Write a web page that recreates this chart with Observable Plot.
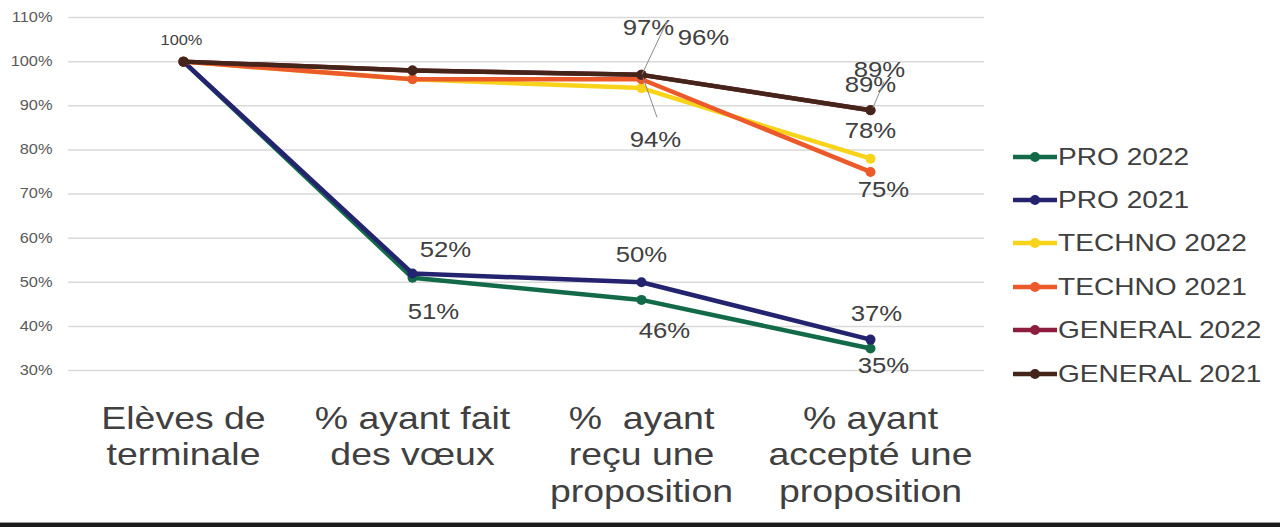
<!DOCTYPE html>
<html>
<head>
<meta charset="utf-8">
<script src="https://cdn.jsdelivr.net/npm/d3@7"></script>
<script src="https://cdn.jsdelivr.net/npm/@observablehq/plot@0.6"></script>
<style>
  html, body { margin: 0; padding: 0; background: #fff; }
  #wrap { position: relative; width: 1280px; height: 527px; overflow: hidden; font-family: "Liberation Sans", Arial, sans-serif; }
  #legend { position: absolute; left: 1013px; top: 135px; }
  .row { position: relative; height: 43.4px; display: flex; align-items: center; }
  .row svg { flex: none; }
  .row span { display: inline-block; font-size: 24px; color: #404040; transform: scaleX(1.17); transform-origin: left center; white-space: nowrap; margin-left: 1px; }
  #baseline { position: absolute; left: 0; top: 522px; width: 1280px; height: 4px; background: #1a1a1a; border-top: 1px solid #9a9a9a; }
</style>
</head>
<body>
<div id="wrap"></div>
<script>
// ---- data ----
const categories = ["Elèves de\nterminale", "% ayant fait\ndes vœux", "%  ayant\nreçu une\nproposition", "% ayant\naccepté une\nproposition"];
const seriesNames = ["PRO 2022", "PRO 2021", "TECHNO 2022", "TECHNO 2021", "GENERAL 2022", "GENERAL 2021"];
const pro2022 = [100, 51, 46, 35];
const pro2021 = [100, 52, 50, 37];
const techno2022 = [100, 96, 94, 78];
const techno2021 = [100, 96, 96, 75];
const general2022 = [100, 98, 97, 89];
const general2021 = [100, 98, 97, 89];
const yTicks = [30, 40, 50, 60, 70, 80, 90, 100, 110];
// which points carry a data label: [series, category index]
const labelledPoints = [
  ["GENERAL 2021", 0],
  ["PRO 2021", 1], ["PRO 2022", 1],
  ["PRO 2021", 2], ["PRO 2022", 2],
  ["PRO 2021", 3], ["PRO 2022", 3],
  ["TECHNO 2022", 2], ["GENERAL 2022", 2], ["TECHNO 2021", 2],
  ["GENERAL 2022", 3], ["GENERAL 2021", 3],
  ["TECHNO 2022", 3], ["TECHNO 2021", 3]
];

// ---- styling / placement (not data) ----
const colors = ["#126a48", "#24236f", "#f7d31a", "#ec5a2b", "#8c1d3e", "#45241a"];
const labelOffsets = {
  "GENERAL 2021|0": [-2, -21, 14],
  "PRO 2021|1": [33, -23, 22], "PRO 2022|1": [21, 34, 22],
  "PRO 2021|2": [0, -27, 22], "PRO 2022|2": [23, 31, 22],
  "PRO 2021|3": [6, -26, 22], "PRO 2022|3": [13, 18, 22],
  "TECHNO 2022|2": [14, 52, 22], "GENERAL 2022|2": [7, -47, 22], "TECHNO 2021|2": [62, -41, 22],
  "GENERAL 2022|3": [9, -40, 22], "GENERAL 2021|3": [0, -25, 22],
  "TECHNO 2022|3": [0, -28, 22], "TECHNO 2021|3": [13, 18, 22]
};
// leader lines: [series, category, dx1, dy1, dx2, dy2]
const leaders = [
  ["GENERAL 2022", 2, 1, 0, 26, -53],
  ["GENERAL 2022", 2, 2, 3, 16, 43],
  ["GENERAL 2022", 3, 3, -2, 14, -28]
];

const seriesValues = [pro2022, pro2021, techno2022, techno2021, general2022, general2021];
const data = seriesNames.flatMap((s, si) => seriesValues[si].map((v, ci) => ({series: s, cat: categories[ci], ci, value: v})));
const lookup = (s, ci) => data.find(d => d.series === s && d.ci === ci);

const labelMarks = labelledPoints.map(([s, ci]) => {
  const d = lookup(s, ci);
  const [dx, dy, fs] = labelOffsets[s + "|" + ci];
  return Plot.text([d], {x: "cat", y: "value", text: d => d.value + "%", dx, dy, fontSize: fs, fill: "#404040"});
});

const chart = Plot.plot({
  width: 1280,
  height: 527,
  marginLeft: 68,
  marginRight: 296,
  marginTop: 17,
  marginBottom: 157,
  style: {fontFamily: "'Liberation Sans', Arial, sans-serif", background: "transparent"},
  x: {type: "point", domain: categories, padding: 0.5},
  y: {domain: [30, 110]},
  color: {domain: seriesNames, range: colors},
  marks: [
    Plot.gridY(yTicks, {stroke: "#d9d9d9", strokeOpacity: 1, strokeWidth: 1.5}),
    Plot.axisY(yTicks, {tickSize: 0, tickPadding: 16, tickFormat: d => d + "%", fontSize: 14, color: "#595959", label: null}),
    Plot.axisX({tickSize: 0, tickPadding: 32, fontSize: 32, lineHeight: 1.15, color: "#404040", label: null}),
    ...seriesNames.flatMap((s, si) => {
      const rows = data.filter(d => d.series === s);
      return [
        Plot.line(rows, {x: "cat", y: "value", stroke: colors[si], strokeWidth: 4.5, strokeLinejoin: "round"}),
        Plot.dot(rows, {x: "cat", y: "value", fill: colors[si], r: 5})
      ];
    }),
    ...labelMarks
  ]
});

// leader lines through the plot's own scales
const xs = chart.scale("x"), ys = chart.scale("y");
const svg = d3.select(chart);
leaders.forEach(([s, ci, dx1, dy1, dx2, dy2]) => {
  const d = lookup(s, ci);
  const px = xs.apply(d.cat), py = ys.apply(d.value);
  svg.append("line")
    .attr("x1", px + dx1).attr("y1", py + dy1)
    .attr("x2", px + dx2).attr("y2", py + dy2)
    .attr("stroke", "#8a8a8a").attr("stroke-width", 1);
});

// horizontally widen all text (the reference type is stretched)
svg.selectAll("text").each(function() {
  const x = +this.getAttribute("x") || 0;
  const y = +this.getAttribute("y") || 0;
  const t = this.getAttribute("transform") || "";
  this.setAttribute("transform", `${t} translate(${x},${y}) scale(1.17,1) translate(${-x},${-y})`);
});

const wrap = document.getElementById("wrap");
wrap.appendChild(chart);

// legend
const legend = document.createElement("div");
legend.id = "legend";
seriesNames.forEach((s, i) => {
  const row = document.createElement("div");
  row.className = "row";
  row.innerHTML = `<svg width="44" height="12"><line x1="0" y1="6" x2="44" y2="6" stroke="${colors[i]}" stroke-width="4.5"/><circle cx="22" cy="6" r="5" fill="${colors[i]}"/></svg><span>${s}</span>`;
  legend.appendChild(row);
});
wrap.appendChild(legend);

const base = document.createElement("div");
base.id = "baseline";
wrap.appendChild(base);
</script>
</body>
</html>
